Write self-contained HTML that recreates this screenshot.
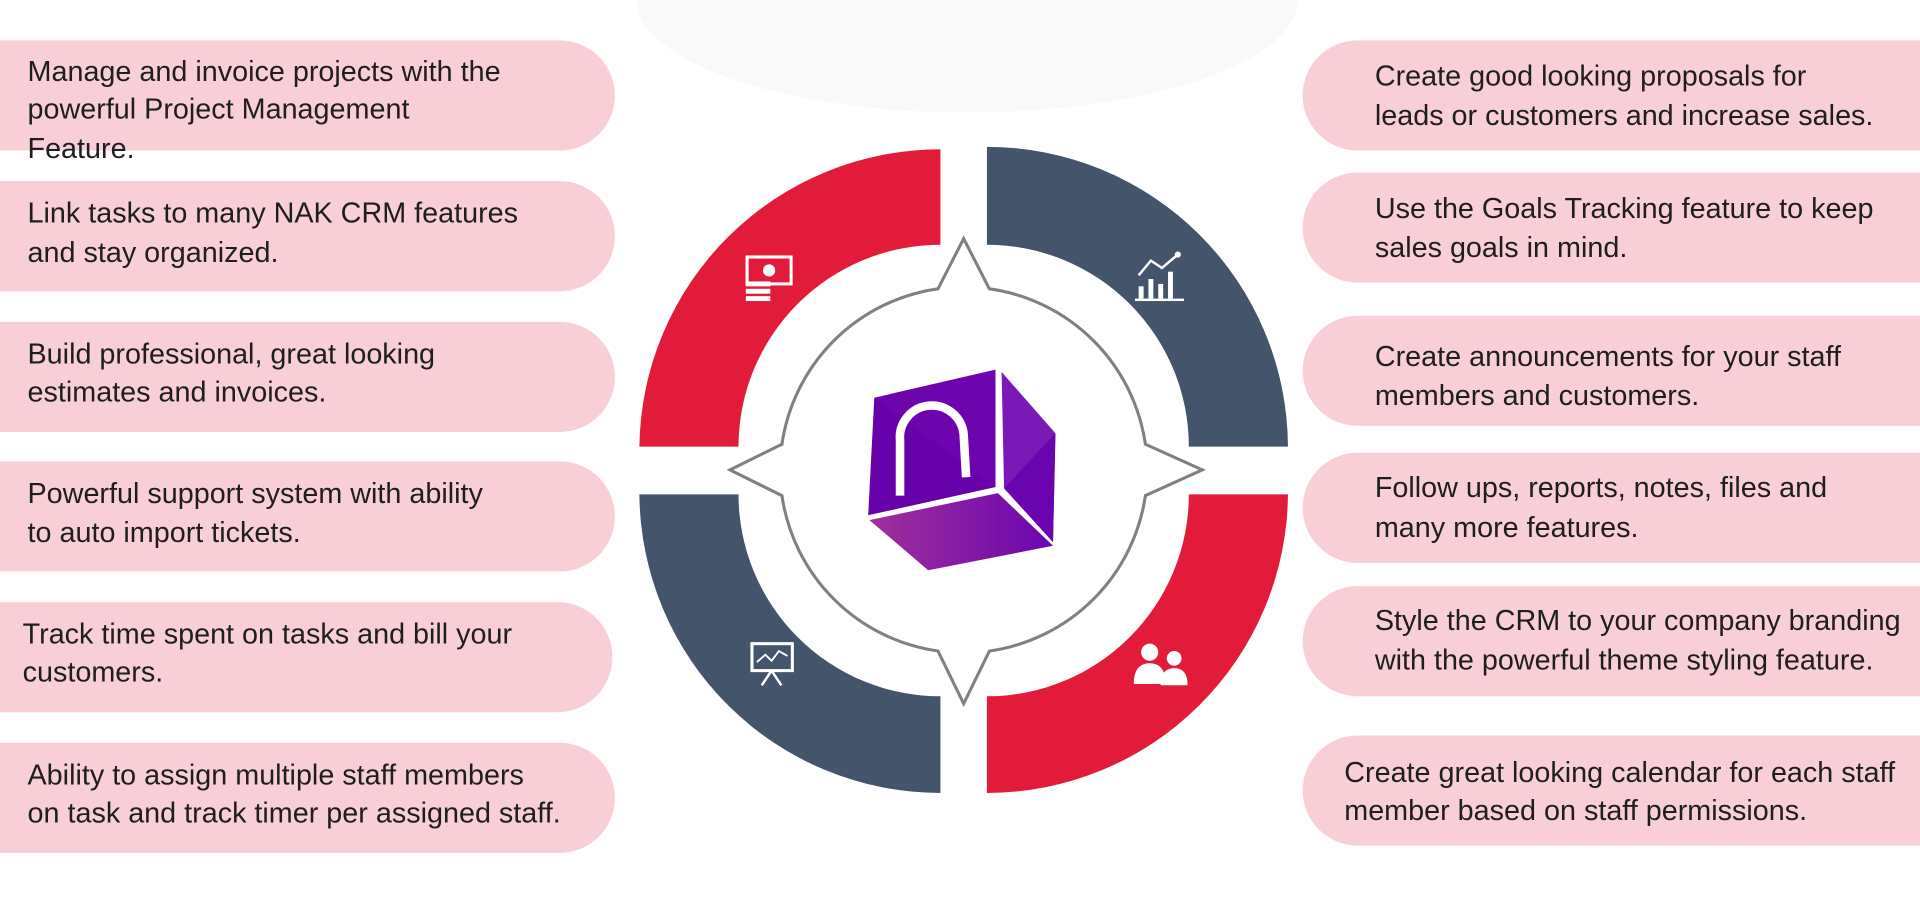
<!DOCTYPE html>
<html><head><meta charset="utf-8"><style>
html,body{margin:0;padding:0;background:#fff;overflow:hidden}
svg{display:block}
text{font-family:"Liberation Sans",sans-serif;font-size:23.5px;fill:#1e1e1e}
</style></head><body>
<svg width="1920" height="908" viewBox="0 0 1568 742" xmlns="http://www.w3.org/2000/svg">
<defs>
<linearGradient id="g1" x1="0" x2="1" y1="0" y2="0"><stop offset="0" stop-color="#a0309a"/><stop offset="1" stop-color="#6a06b0"/></linearGradient>
</defs>
<ellipse cx="790" cy="0" rx="270" ry="92" fill="#f9f9f9"/>
<g fill="#f8cfd6">
<rect x="-50" y="33" width="552" height="90" rx="45"/>
<rect x="-50" y="148" width="552" height="90" rx="45"/>
<rect x="-50" y="263" width="552" height="90" rx="45"/>
<rect x="-50" y="377" width="552" height="90" rx="45"/>
<rect x="-50" y="492" width="550" height="90" rx="45"/>
<rect x="-50" y="607" width="552" height="90" rx="45"/>
<rect x="1064" y="33" width="560" height="90" rx="45"/>
<rect x="1064" y="141" width="560" height="90" rx="45"/>
<rect x="1064" y="258" width="560" height="90" rx="45"/>
<rect x="1064" y="370" width="560" height="90" rx="45"/>
<rect x="1064" y="479" width="560" height="90" rx="45"/>
<rect x="1064" y="601" width="560" height="90" rx="45"/>
</g>
<text x="22" y="66">Manage and invoice projects with the</text>
<text x="22" y="97">powerful Project Management</text>
<text x="22" y="129">Feature.</text>
<text x="22" y="182">Link tasks to many NAK CRM features</text>
<text x="22" y="214">and stay organized.</text>
<text x="22" y="297">Build professional, great looking</text>
<text x="22" y="328">estimates and invoices.</text>
<text x="22" y="411">Powerful support system with ability</text>
<text x="22" y="443">to auto import tickets.</text>
<text x="18" y="526">Track time spent on tasks and bill your</text>
<text x="18" y="557">customers.</text>
<text x="22" y="641">Ability to assign multiple staff members</text>
<text x="22" y="672">on task and track timer per assigned staff.</text>
<text x="1123" y="70">Create good looking proposals for</text>
<text x="1123" y="102">leads or customers and increase sales.</text>
<text x="1123" y="178">Use the Goals Tracking feature to keep</text>
<text x="1123" y="210">sales goals in mind.</text>
<text x="1123" y="299">Create announcements for your staff</text>
<text x="1123" y="331">members and customers.</text>
<text x="1123" y="406">Follow ups, reports, notes, files and</text>
<text x="1123" y="439">many more features.</text>
<text x="1123" y="515">Style the CRM to your company branding</text>
<text x="1123" y="547">with the powerful theme styling feature.</text>
<text x="1098" y="639">Create great looking calendar for each staff</text>
<text x="1098" y="670">member based on staff permissions.</text>
<path d="M522,365 A246 246 0 0 1 768,122 L768,200 A165 165 0 0 0 603,365 Z" fill="#e31b3a"/>
<path d="M806,120 A246 246 0 0 1 1052,365 L971,365 A165 165 0 0 0 806,200 Z" fill="#44546a"/>
<path d="M522,404 A246 246 0 0 0 768,648 L768,569 A165 165 0 0 1 603,404 Z" fill="#44546a"/>
<path d="M1052,404 A246 246 0 0 1 806,648 L806,569 A165 165 0 0 0 971,404 Z" fill="#e31b3a"/>
<path d="M787,195 L808,236 A150 150 0 0 1 935.5,363 L982,384 L935.5,405 A150 150 0 0 1 808,532 L787,575 L766,532 A150 150 0 0 1 638.5,405 L596,384 L638.5,363 A150 150 0 0 1 766,236 Z" fill="#fff" stroke="#808080" stroke-width="2.5"/>
<polygon points="714,325 813,302 813,398 709,421" fill="#6c05ad"/>
<polygon points="714,325 813,398 709,421" fill="#6400a8" opacity="0.6"/>
<polygon points="818,304 862,354 860,443 820,399" fill="#7a18b8"/>
<polygon points="862,354 860,443 820,399" fill="#6a04ae"/>
<polygon points="710,425 815,403 860,446 758,466" fill="url(#g1)"/>
<path d="M735,405 L735,360 A26 26 0 0 1 787,355 L789,390" fill="none" stroke="#fff" stroke-width="7"/>
<g fill="#fff">
<rect x="610" y="210" width="36" height="22" fill="none" stroke="#fff" stroke-width="2.5"/>
<circle cx="628" cy="221" r="5"/>
<rect x="609" y="230" width="20" height="4"/><rect x="609" y="236" width="20" height="4"/><rect x="609" y="242" width="20" height="4"/>
<rect x="930" y="234" width="4" height="10"/><rect x="938" y="228" width="4" height="16"/><rect x="946" y="232" width="4" height="12"/><rect x="954" y="222" width="4" height="22"/>
<rect x="927" y="244" width="40" height="2"/>
<polyline points="930,225 940,213 949,219 962,208" fill="none" stroke="#fff" stroke-width="2"/>
<circle cx="962" cy="208" r="2.5"/>
<rect x="614" y="526" width="33" height="22" fill="none" stroke="#fff" stroke-width="2.5"/>
<polyline points="618,541 625,535 630,540 636,532 643,536" fill="none" stroke="#fff" stroke-width="1.5"/>
<line x1="630" y1="548" x2="622" y2="560" stroke="#fff" stroke-width="2"/><line x1="630" y1="548" x2="638" y2="560" stroke="#fff" stroke-width="2"/>
<circle cx="939" cy="533" r="7"/><path d="M926,559 Q926,542 939,542 Q952,542 952,559 Z"/>
<circle cx="959" cy="538" r="6"/><path d="M948,560 Q948,546 959,546 Q970,546 970,560 Z"/>
</g>
</svg>
</body></html>
